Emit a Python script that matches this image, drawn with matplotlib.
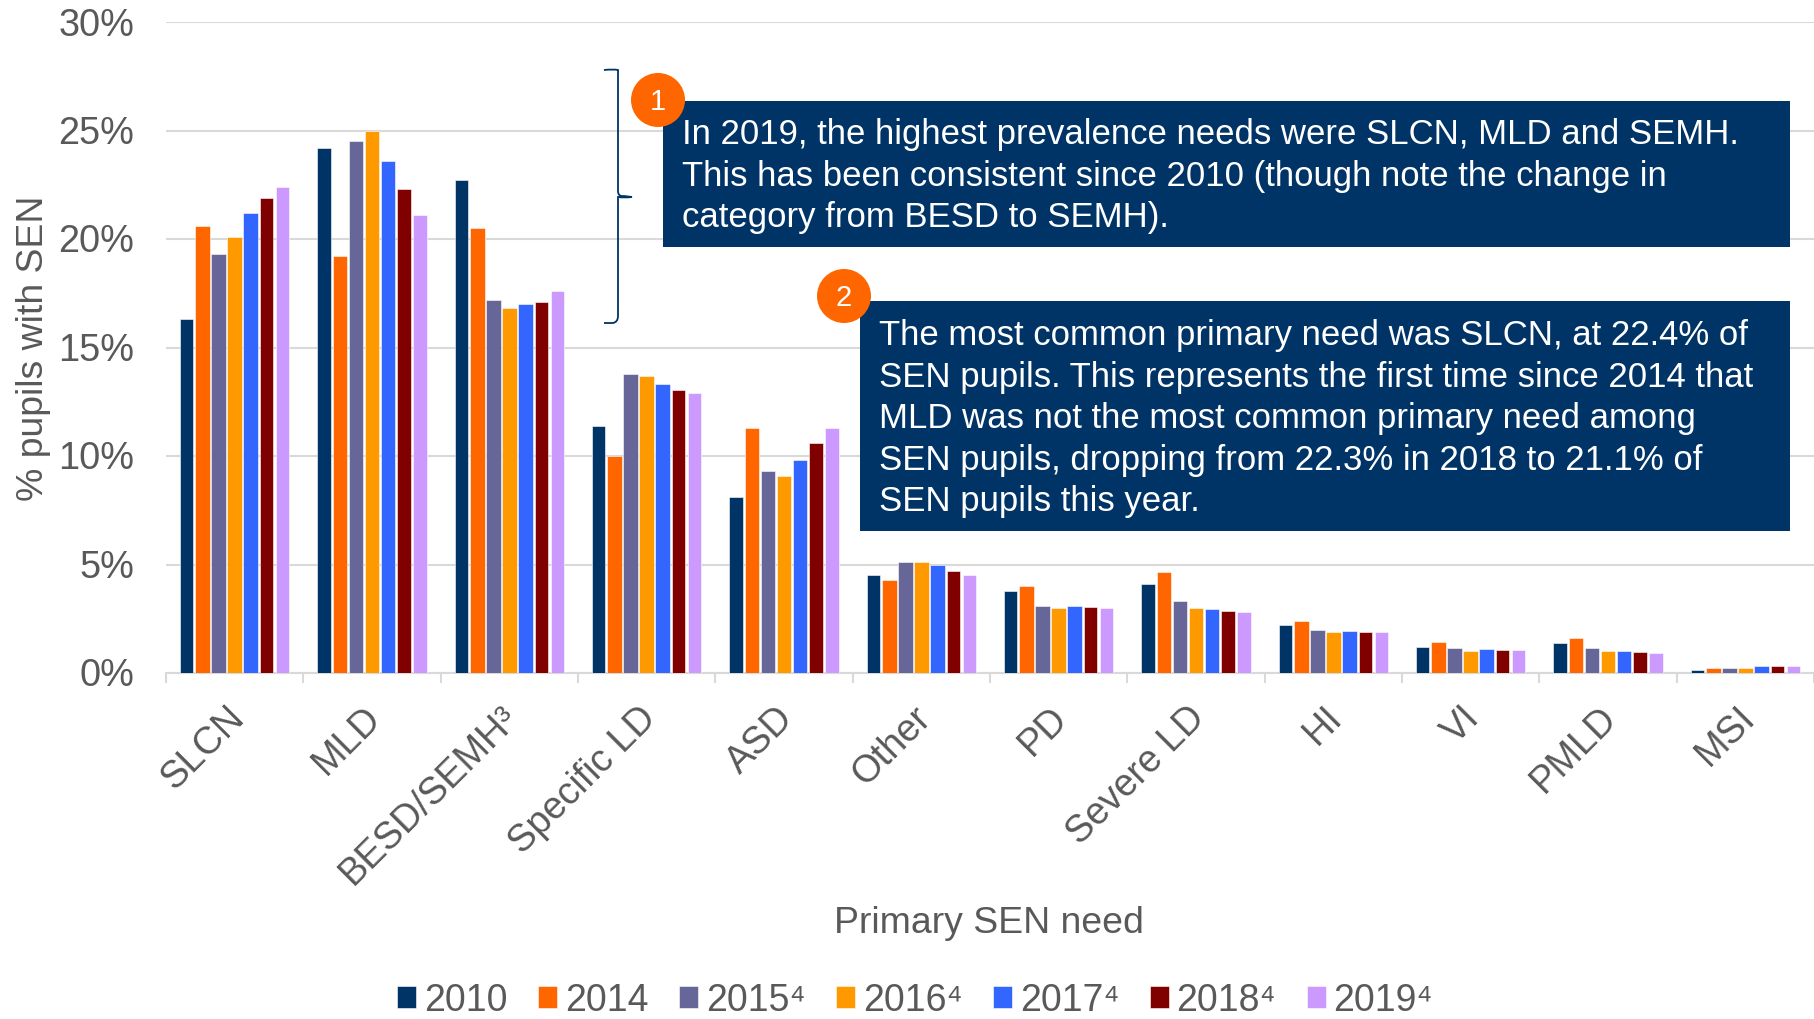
import matplotlib
matplotlib.use("Agg")
import matplotlib.pyplot as plt
from matplotlib.patches import Rectangle, Circle, PathPatch
from matplotlib.path import Path
from matplotlib.transforms import ScaledTranslation

plt.rcParams['font.family'] = ['Liberation Sans', 'DejaVu Sans']

categories = ['SLCN', 'MLD', 'BESD/SEMH³', 'Specific LD', 'ASD', 'Other', 'PD',
              'Severe LD', 'HI', 'VI', 'PMLD', 'MSI']
y2010 = [16.3, 24.2, 22.7, 11.4, 8.1, 4.5, 3.8, 4.1, 2.2, 1.2, 1.4, 0.12]
y2014 = [20.6, 19.2, 20.5, 10.0, 11.3, 4.3, 4.0, 4.65, 2.4, 1.45, 1.62, 0.25]
y2015 = [19.3, 24.5, 17.2, 13.8, 9.3, 5.1, 3.1, 3.3, 2.0, 1.15, 1.15, 0.25]
y2016 = [20.1, 25.0, 16.8, 13.7, 9.1, 5.1, 3.0, 3.0, 1.9, 1.0, 1.0, 0.25]
y2017 = [21.2, 23.6, 17.0, 13.3, 9.8, 5.0, 3.07, 2.95, 1.95, 1.1, 1.0, 0.3]
y2018 = [21.9, 22.3, 17.1, 13.05, 10.6, 4.7, 3.05, 2.87, 1.9, 1.05, 0.95, 0.3]
y2019 = [22.4, 21.1, 17.6, 12.9, 11.3, 4.5, 3.0, 2.8, 1.88, 1.05, 0.9, 0.3]
series = [('2010', y2010, '#003366', 0.098), ('2014', y2014, '#FF6600', 0.109),
          ('2015⁴', y2015, '#666699', 0.109), ('2016⁴', y2016, '#FF9900', 0.109),
          ('2017⁴', y2017, '#3366FF', 0.109), ('2018⁴', y2018, '#800000', 0.098),
          ('2019⁴', y2019, '#CC99FF', 0.098)]
yticks = [0, 5, 10, 15, 20, 25, 30]

note1 = ['In 2019, the highest prevalence needs were SLCN, MLD and SEMH.',
         'This has been consistent since 2010 (though note the change in',
         'category from BESD to SEMH).']
note2 = ['The most common primary need was SLCN, at 22.4% of',
         'SEN pupils. This represents the first time since 2014 that',
         'MLD was not the most common primary need among',
         'SEN pupils, dropping from 22.3% in 2018 to 21.1% of',
         'SEN pupils this year.']

W, H = 1814, 1020
GREY = '#595959'
FS = 27.3
fig = plt.figure(figsize=(W / 100, H / 100), dpi=100, facecolor='white')
ax = fig.add_axes([166 / W, 1 - 674 / H, (W - 166) / W, (674 - 23) / H])

pitch = 0.1165
for i, (name, vals, col, wd) in enumerate(series):
    xs = [k + (i - 3) * pitch for k in range(len(categories))]
    ax.bar(xs, vals, width=wd, color=col, label=name, zorder=3,
           edgecolor='white', linewidth=0.4)

ax.set_xlim(-0.5, len(categories) - 0.5)
ax.set_ylim(0, 30)
ax.set_yticks(yticks)
ax.set_yticklabels([f'{v}%' for v in yticks])
ax.yaxis.grid(True, color='#D9D9D9', linewidth=1.5, zorder=0)
ax.set_axisbelow(True)
for s in ('left', 'right', 'top'):
    ax.spines[s].set_visible(False)
ax.spines['bottom'].set_color('#D9D9D9')
ax.spines['bottom'].set_linewidth(1.5)
ax.tick_params(axis='y', length=0, pad=23, labelsize=FS, labelcolor=GREY)
yshift = ScaledTranslation(0, 1.5 / 100, fig.dpi_scale_trans)
for lab in ax.get_yticklabels():
    lab.set_transform(lab.get_transform() + yshift)

ax.set_xticks(range(len(categories)))
ax.set_xticklabels(categories, rotation=45, ha='right', va='top', rotation_mode='anchor',
                   fontsize=FS, color=GREY)
ax.tick_params(axis='x', which='major', length=0, pad=18.5)
shift = ScaledTranslation(-9 / 100, 0, fig.dpi_scale_trans)
for lab in ax.get_xticklabels():
    lab.set_transform(lab.get_transform() + shift)
ax.set_xticks([k - 0.5 for k in range(len(categories) + 1)], minor=True)
ax.tick_params(axis='x', which='minor', length=7, width=1.5, color='#D9D9D9')

# overlay in pixel coordinates for the callouts
ov = fig.add_axes([0, 0, 1, 1], facecolor='none', zorder=5)
ov.set_xlim(0, W)
ov.set_ylim(H, 0)
ov.axis('off')

ov.text(989, 924, 'Primary SEN need', ha='center', va='center', fontsize=26.9, color=GREY)
ov.text(34, 348, '% pupils with SEN', ha='center', va='center', rotation=90, fontsize=26.9, color=GREY)

NAVY = '#003366'
ov.add_patch(Rectangle((663, 102), 1790 - 663, 146, fc=NAVY, ec='none', zorder=2))
ov.add_patch(Rectangle((860, 302), 1790 - 860, 230, fc=NAVY, ec='none', zorder=2))
for cx, cy, t in [(658, 101, '1'), (844, 297, '2')]:
    ov.add_patch(Circle((cx, cy), 27, fc='#FF6600', ec='none', zorder=3))
    ov.text(cx, cy + 1, t, color='white', ha='center', va='center', fontsize=21, zorder=4)
for k, line in enumerate(note1):
    ov.text(682, 144 + k * 41.6, line, color='white', ha='left', va='baseline', fontsize=25, zorder=4)
for k, line in enumerate(note2):
    ov.text(879, 345 + k * 41.6, line, color='white', ha='left', va='baseline', fontsize=25, zorder=4)

verts = [(604, 71), (613, 70), (618, 71), (618, 77), (618, 192), (618, 198), (624, 197), (632, 198),
         (624, 199), (618, 198), (618, 204), (618, 317), (618, 323), (613, 324), (604, 324)]
codes = [Path.MOVETO, Path.CURVE3, Path.CURVE3, Path.LINETO, Path.LINETO, Path.CURVE3, Path.CURVE3,
         Path.LINETO, Path.CURVE3, Path.CURVE3, Path.LINETO, Path.LINETO, Path.CURVE3, Path.CURVE3, Path.LINETO]
ov.add_patch(PathPatch(Path(verts, codes), fc='none', ec=NAVY, lw=1.3, zorder=2))

handles, labels = ax.get_legend_handles_labels()
leg = fig.legend(handles, labels, loc='center', bbox_to_anchor=(915 / W, 1 - 1001 / H), ncol=7,
                 frameon=False, fontsize=27, handlelength=0.52, handleheight=0.52,
                 handletextpad=0.2, columnspacing=0.81, borderpad=0, labelcolor=GREY)

fig.savefig('out.png', dpi=100)
